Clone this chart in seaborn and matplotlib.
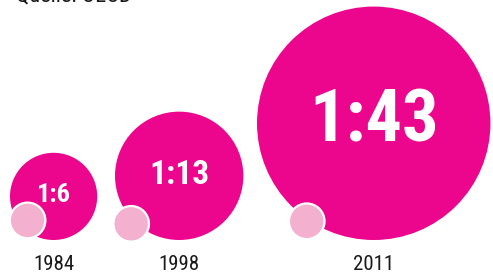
import numpy as np
import matplotlib.pyplot as plt
import pandas as pd
import seaborn as sns

sns.set_theme(style='white')
plt.rcParams['font.family'] = ['Roboto Condensed', 'Barlow Condensed',
                               'Sofia Sans Condensed', 'DejaVu Sans']

# data
years = ['1984', '1998', '2011']
ratios = [6, 13, 43]            # 1:n  -> big circle area = n units
labels = ['1:6', '1:13', '1:43']
source = 'Quelle: OECD'

# layout (pixels, y downwards)
W, H = 493, 276
left_edges = [10, 115, 257]
baseline_y = 240
small_offsets = [(-26, 24), (-48, 48), (-67, 98)]
unit_r = 17.8                   # radius of one unit, px

magenta = '#EC068D'
pink = '#F3B0CF'

radii = [unit_r * np.sqrt(r) for r in ratios]
cx = [l + r for l, r in zip(left_edges, radii)]
cy = [baseline_y - r for r in radii]

big = pd.DataFrame({'x': cx, 'y': cy, 'n': ratios, 'year': years})
small = pd.DataFrame({'x': [x + dx for x, (dx, dy) in zip(cx, small_offsets)],
                      'y': [y + dy for y, (dx, dy) in zip(cy, small_offsets)],
                      'n': [1] * len(years)})

fig = plt.figure(figsize=(W / 100, H / 100), dpi=100)
ax = fig.add_axes([0, 0, 1, 1])

# marker area in pt^2 for n units
s_unit = (2 * unit_r * 0.72) ** 2
smax = s_unit * 43

sns.scatterplot(data=big, x='x', y='y', size='n', size_norm=(0, 43),
                sizes=(0, smax), color=magenta, linewidth=0,
                legend=False, ax=ax, zorder=2)
sns.scatterplot(data=small, x='x', y='y', size='n', size_norm=(0, 43),
                sizes=(0, smax), color=pink, edgecolor='white',
                linewidth=1.6, legend=False, ax=ax, zorder=3)
ax.set_xlim(0, W)
ax.set_ylim(H, 0)
ax.set_axis_off()

fsizes = [19, 24, 52]
for x, y, lab, fs in zip(cx, cy, labels, fsizes):
    ax.text(x, y - 1, lab, color='white', fontsize=fs, fontweight='bold',
            ha='center', va='center', zorder=4)

for x, yr in zip(cx, years):
    ax.text(x, 265, yr, color='#1a1a1a', fontsize=15,
            ha='center', va='center')

# source line sits mostly above the top edge, as in the original crop
ax.text(16, 2, source, color='#1a1a1a', fontsize=16, ha='left',
        va='baseline')

fig.savefig('out.png', dpi=100)
